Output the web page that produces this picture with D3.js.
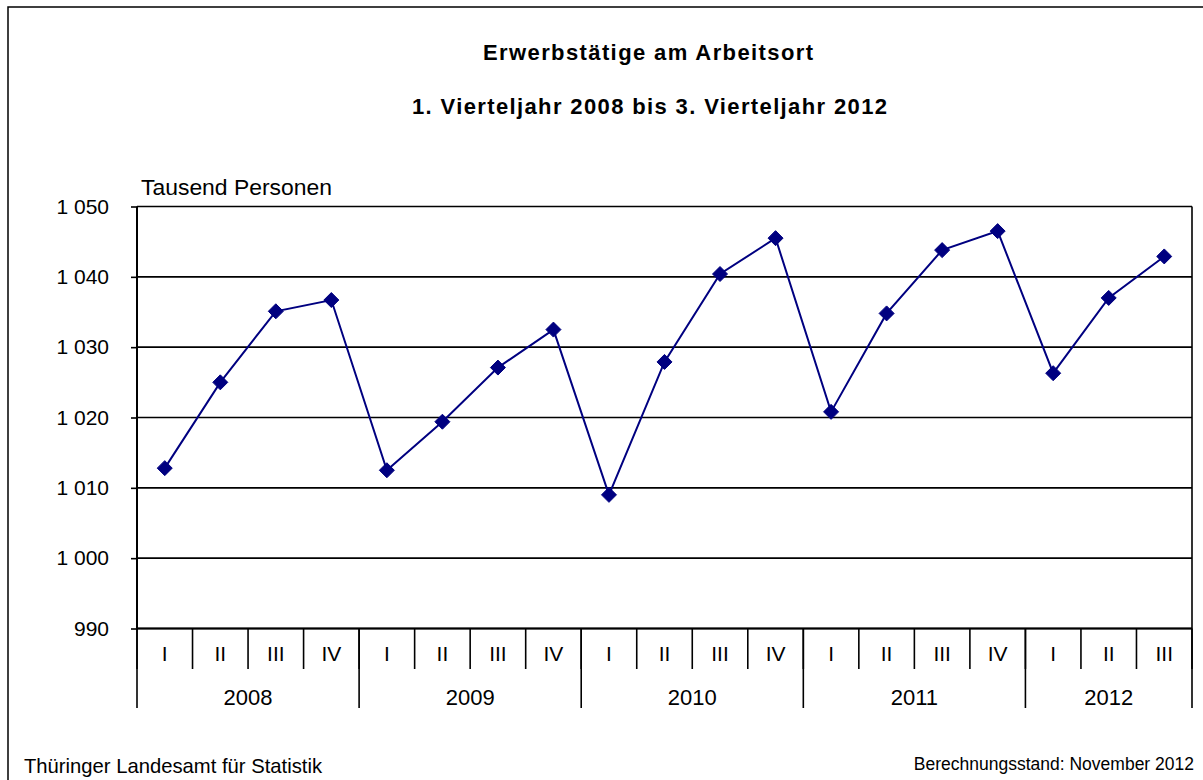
<!DOCTYPE html>
<html>
<head>
<meta charset="utf-8">
<script src="https://cdn.jsdelivr.net/npm/d3@7"></script>
<style>
  html, body { margin: 0; padding: 0; background: #fff; }
  svg { display: block; font-family: "Liberation Sans", Arial, sans-serif; }
</style>
</head>
<body>
<svg id="chart" width="1203" height="780"></svg>
<script>
// ---- data ----
const quarterLabels = ["I","II","III","IV","I","II","III","IV","I","II","III","IV","I","II","III","IV","I","II","III"];
const yearLabels = ["2008","2009","2010","2011","2012"];
const yearQuarterCounts = [4,4,4,4,3];
const values = [1012.8, 1025.0, 1035.1, 1036.7, 1012.5, 1019.4, 1027.1, 1032.5, 1009.0, 1027.9, 1040.4, 1045.5, 1020.8, 1034.8, 1043.8, 1046.5, 1026.3, 1037.0, 1042.9];
const yTicks = [990, 1000, 1010, 1020, 1030, 1040, 1050];
const titleText = "Erwerbstätige  am Arbeitsort";
const subtitleText = "1. Vierteljahr 2008 bis 3. Vierteljahr 2012";
const unitText = "Tausend Personen";
const sourceText = "Thüringer Landesamt für Statistik";
const stampText = "Berechnungsstand: November 2012";

// ---- layout ----
const pLeft = 137, pRight = 1192, pTop = 206.5, pBottom = 628.5;
const svg = d3.select("#chart");
const navy = "#000080";

const idx = values.map((d, i) => i);
const x = d3.scaleBand().domain(idx).range([pLeft, pRight]).padding(0);
const y = d3.scaleLinear().domain([990, 1050]).range([pBottom, pTop]);
const fmt = d3.formatLocale({decimal: ",", thousands: " ", grouping: [3]}).format(",d");

// outer frame
svg.append("rect").attr("x", 8).attr("y", 7).attr("width", 1300).attr("height", 900)
  .attr("fill", "none").attr("stroke", "#000").attr("stroke-width", 1.5);

// titles
svg.append("text").attr("x", 648).attr("y", 60).attr("text-anchor", "middle")
  .attr("font-size", 22).attr("font-weight", "bold").attr("textLength", 330).attr("lengthAdjust", "spacing")
  .text(titleText);
svg.append("text").attr("x", 649.5).attr("y", 114).attr("text-anchor", "middle")
  .attr("font-size", 22).attr("font-weight", "bold").attr("textLength", 475).attr("lengthAdjust", "spacing")
  .text(subtitleText);

// unit label
svg.append("text").attr("x", 141).attr("y", 195).attr("font-size", 22.5)
  .attr("textLength", 191).attr("lengthAdjust", "spacingAndGlyphs").text(unitText);

// gridlines
svg.append("g").selectAll("line").data(yTicks).join("line")
  .attr("x1", pLeft).attr("x2", pRight)
  .attr("y1", d => y(d)).attr("y2", d => y(d))
  .attr("stroke", "#000").attr("stroke-width", 1.6);

// y axis
const yAxis = d3.axisLeft(y).tickValues(yTicks).tickFormat(fmt).tickSize(6).tickPadding(22);
const gy = svg.append("g").attr("transform", `translate(${pLeft},0)`).call(yAxis);
gy.select(".domain").attr("stroke-width", 2).attr("d", `M0,${pTop}V${pBottom}`);
gy.selectAll(".tick line").attr("stroke-width", 1.6);
gy.selectAll(".tick text").attr("font-size", 21).attr("fill", "#000")
  .attr("font-family", "Liberation Sans, Arial, sans-serif");

// right border of plot
svg.append("line").attr("x1", pRight).attr("x2", pRight).attr("y1", pTop).attr("y2", 708)
  .attr("stroke", "#000").attr("stroke-width", 1.6);

// x axis: quarter level
const xAxis = d3.axisBottom(x).tickFormat(i => quarterLabels[i]).tickSize(0).tickPadding(18);
const gx = svg.append("g").attr("transform", `translate(0,${pBottom})`).call(xAxis);
gx.select(".domain").attr("stroke-width", 2).attr("d", `M${pLeft},0H${pRight}`);
gx.selectAll(".tick text").attr("font-size", 21).attr("fill", "#000")
  .attr("font-family", "Liberation Sans, Arial, sans-serif");

// quarter separators
const boundaries = idx.map(i => x(i)).concat([pRight]);
svg.append("g").selectAll("line").data(boundaries).join("line")
  .attr("x1", d => d).attr("x2", d => d)
  .attr("y1", pBottom).attr("y2", 669)
  .attr("stroke", "#000").attr("stroke-width", 1.6);

// year groups
let start = 0;
const yearGroups = yearLabels.map((yr, k) => {
  const g = {label: yr, from: start, to: start + yearQuarterCounts[k] - 1};
  start += yearQuarterCounts[k];
  return g;
});
svg.append("g").selectAll("line").data(yearGroups).join("line")
  .attr("x1", d => x(d.from)).attr("x2", d => x(d.from))
  .attr("y1", pBottom).attr("y2", 708)
  .attr("stroke", "#000").attr("stroke-width", 1.6);
svg.append("g").selectAll("text").data(yearGroups).join("text")
  .attr("x", d => (x(d.from) + x(d.to) + x.bandwidth()) / 2)
  .attr("y", 705)
  .attr("text-anchor", "middle").attr("font-size", 22)
  .text(d => d.label);

// series line
const line = d3.line().x(i => x(i) + x.bandwidth() / 2).y(i => y(values[i]));
svg.append("path").datum(idx).attr("d", line)
  .attr("fill", "none").attr("stroke", navy).attr("stroke-width", 2);

// markers
const r = 7.5;
svg.append("g").selectAll("path").data(idx).join("path")
  .attr("transform", i => `translate(${x(i) + x.bandwidth() / 2},${y(values[i])})`)
  .attr("d", `M0,${-r}L${r},0L0,${r}L${-r},0Z`)
  .attr("fill", navy).attr("stroke", navy).attr("stroke-width", 1);

// footers
svg.append("text").attr("x", 24).attr("y", 773).attr("font-size", 21)
  .attr("textLength", 298).attr("lengthAdjust", "spacingAndGlyphs").text(sourceText);
svg.append("text").attr("x", 1194).attr("y", 770).attr("text-anchor", "end").attr("font-size", 17.5)
  .text(stampText);
</script>
</body>
</html>
